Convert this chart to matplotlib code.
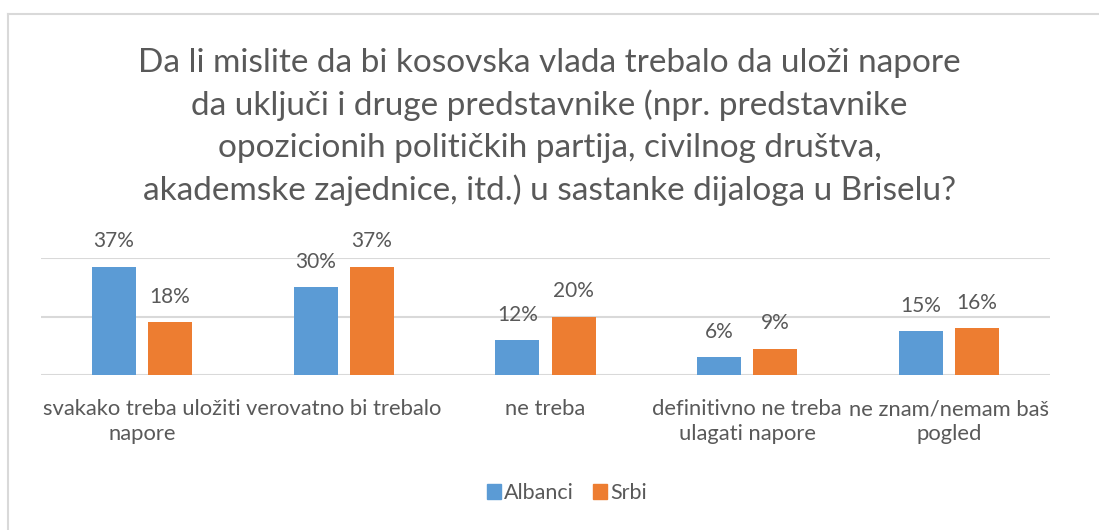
import matplotlib
matplotlib.use("Agg")
import matplotlib.pyplot as plt
import numpy as np
from matplotlib.lines import Line2D
from matplotlib.patches import Patch

categories = ["svakako treba uložiti\nnapore", "verovatno bi trebalo", "ne treba",
              "definitivno ne treba\nulagati napore", "ne znam/nemam baš\npogled"]
albanci = [37, 30, 12, 6, 15]
srbi = [18, 37, 20, 9, 16]
series_names = ["Albanci", "Srbi"]
title = ("Da li mislite da bi kosovska vlada trebalo da uloži napore\n"
         "da uključi i druge predstavnike (npr. predstavnike\n"
         "opozicionih političkih partija, civilnog društva,\n"
         "akademske zajednice, itd.) u sastanke dijaloga u Briselu?")

plt.rcParams['font.family'] = ['Lato', 'DejaVu Sans']
TXT = "#595959"
BLUE = "#5B9BD5"
ORANGE = "#ED7D31"

W, H = 1099, 530
fig = plt.figure(figsize=(W/100, H/100), dpi=100)
ax = fig.add_axes([41/W, 1-375/H, (1050-41)/W, (375-258)/H])

x = np.arange(len(categories))
bw = 0.218
off = bw/2 + 0.03
b1 = ax.bar(x - off, albanci, bw, color=BLUE, zorder=3)
b2 = ax.bar(x + off, srbi, bw, color=ORANGE, zorder=3)
for bars, vals in ((b1, albanci), (b2, srbi)):
    for r, v in zip(bars, vals):
        ax.annotate(f"{v}%", (r.get_x()+r.get_width()/2, v), xytext=(0, 11),
                    textcoords="offset points", ha="center", va="bottom",
                    fontsize=15, color=TXT)

ax.set_xlim(-0.5, len(categories)-0.5)
ax.set_ylim(0, 40)
ax.set_yticks([0, 20, 40])
ax.yaxis.grid(True, color="#d9d9d9", linewidth=1.5, zorder=0)
ax.set_axisbelow(True)
ax.tick_params(axis='y', left=False, labelleft=False)
ax.tick_params(axis='x', bottom=False, pad=14)
ax.set_xticks(x)
ax.set_xticklabels(categories, fontsize=15.8, color=TXT, linespacing=1.3)
for s in ax.spines.values():
    s.set_visible(False)
ax.patch.set_alpha(0)

fig.text(0.5, 1-127/H, title, ha="center", va="center", fontsize=24,
         color=TXT, linespacing=1.46)

handles = [Patch(color=BLUE), Patch(color=ORANGE)]
fig.legend(handles, series_names, loc="center", bbox_to_anchor=(0.516, 1-493/H),
           ncol=2, frameon=False, fontsize=15.5, handlelength=0.65, handleheight=0.65,
           handletextpad=0.15, columnspacing=0.9, labelcolor=TXT)

fig.add_artist(Line2D([8/W, 1], [1-14/H, 1-14/H], color="#d9d9d9", linewidth=1.5))
fig.add_artist(Line2D([8/W, 8/W], [1-14/H, 0], color="#d9d9d9", linewidth=1.5))

fig.savefig("out.png", dpi=100)
